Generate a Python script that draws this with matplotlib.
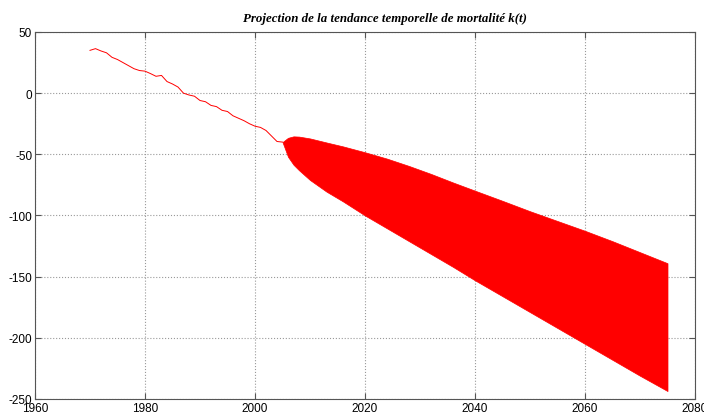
import numpy as np
import matplotlib
matplotlib.use('Agg')
import matplotlib.pyplot as plt

plt.rcParams['axes.unicode_minus'] = False

# historical k(t)
hist_years = list(range(1970, 2006))
hist_k = [35.0, 36.4, 34.5, 33.0, 29.3, 27.5, 25.0, 22.5, 20.0, 18.5,
          18.0, 16.0, 13.8, 14.5, 9.5, 7.5, 5.0, 0.0, -1.5, -2.5,
          -6.0, -7.0, -10.0, -11.0, -14.0, -15.0, -18.5, -20.5, -22.5, -25.0,
          -27.0, -28.0, -30.5, -35.0, -39.5, -40.0]

# projection envelope
proj_years = [2005, 2006, 2007, 2008, 2010, 2013, 2016, 2020, 2024, 2028,
              2032, 2036, 2040, 2045, 2050, 2055, 2060, 2065, 2070, 2075]
proj_upper = [-40.0, -36.5, -35.3, -35.5, -37.0, -40.3, -43.5, -48.3, -53.5, -59.5,
              -66.0, -73.0, -79.7, -88.0, -96.5, -104.5, -112.5, -121.0, -130.0, -139.0]
proj_lower = [-40.0, -52.0, -58.5, -63.0, -71.0, -80.5, -88.5, -100.0, -110.5, -121.0,
              -131.5, -142.0, -153.0, -166.0, -179.0, -192.0, -205.0, -218.0, -231.0, -243.5]

xticks = [1960, 1980, 2000, 2020, 2040, 2060, 2080]
yticks = [-250, -200, -150, -100, -50, 0, 50]

fig = plt.figure(figsize=(7.04, 4.14), dpi=100)
ax = fig.add_axes([35 / 704, 1 - 400 / 414, 660 / 704, 367 / 414])

ax.plot(hist_years, hist_k, color='red', linewidth=0.7)
ax.fill_between(proj_years, proj_lower, proj_upper, color='#ff0000', linewidth=0.5, edgecolor='red')

ax.set_xlim(1960, 2080)
ax.set_ylim(-250, 50)
ax.set_xticks(xticks)
ax.set_yticks(yticks)
ax.grid(True, linestyle=':', color='#999999', linewidth=0.8)
ax.set_axisbelow(True)

for s in ax.spines.values():
    s.set_color('#555555')
    s.set_linewidth(0.8)
ax.tick_params(direction='in', length=4, color='#555555', top=True, right=True,
               labelsize=8.5, pad=2)
for lbl in ax.get_xticklabels() + ax.get_yticklabels():
    lbl.set_fontfamily('Liberation Sans')

# title sits a bit right of the axes centre in the original
ax.set_title('Projection de la tendance temporelle de mortalité k(t)',
             fontsize=9.3, fontstyle='italic', fontweight='bold',
             fontfamily='Liberation Serif', pad=8, x=(385 - 35) / 660)

fig.savefig('out.png', dpi=100)
